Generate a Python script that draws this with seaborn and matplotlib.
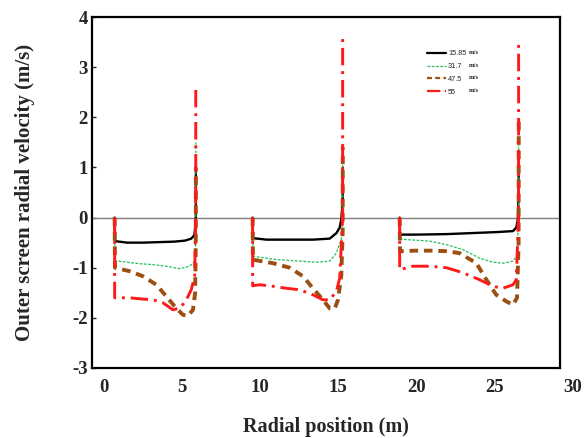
import numpy as np
import pandas as pd
import matplotlib
matplotlib.use("Agg")
import matplotlib.pyplot as plt
import matplotlib.transforms as mtransforms
from matplotlib.lines import Line2D
import seaborn as sns

# ---------------- data ----------------
series_labels = ["15.85", "31.7", "47.5", "55"]
unit_text = "m/s"
x_ticks = [0, 5, 10, 15, 20, 25, 30]
y_ticks = [-3, -2, -1, 0, 1, 2, 3, 4]

# black (15.85 m/s), three screen sections
s1_x_a = [0.70, 0.72, 1.5, 2.5, 3.5, 4.5, 5.2, 5.6, 5.8, 5.89, 5.9]
s1_y_a = [0, -0.47, -0.50, -0.50, -0.49, -0.48, -0.46, -0.42, -0.35, -0.10, 1.0]
s1_x_b = [9.53, 9.55, 10.41, 11.9, 13.39, 14.46, 14.89, 15.1, 15.2, 15.29, 15.3]
s1_y_b = [0, -0.41, -0.44, -0.44, -0.44, -0.42, -0.31, -0.20, -0.04, 0.3, 1.0]
s1_x_c = [18.94, 18.96, 20.0, 21.93, 23.5, 25.12, 26.19, 26.4, 26.5, 26.55, 26.56]
s1_y_c = [0, -0.34, -0.34, -0.33, -0.31, -0.29, -0.27, -0.20, -0.04, 0.5, 1.2]

# green (31.7 m/s)
s2_x_a = [0.70, 0.72, 1.5, 2.3, 3.2, 4.0, 4.86, 5.5, 5.82, 5.89, 5.9]
s2_y_a = [0, -0.86, -0.89, -0.92, -0.94, -0.97, -1.02, -0.97, -0.87, -0.5, 1.5]
s2_x_b = [9.53, 9.55, 10.83, 12.11, 13.6, 14.46, 14.89, 15.1, 15.2, 15.29, 15.3]
s2_y_b = [0, -0.77, -0.83, -0.86, -0.89, -0.87, -0.71, -0.51, -0.46, 0, 1.5]
s2_x_c = [18.94, 18.96, 20.86, 21.93, 22.99, 24.06, 24.91, 25.55, 26.19, 26.44, 26.55, 26.56]
s2_y_c = [0, -0.43, -0.47, -0.54, -0.64, -0.81, -0.89, -0.91, -0.87, -0.77, 0, 1.5]

# brown (47.5 m/s)
s3_x_a = [0.70, 0.72, 1.66, 2.51, 3.37, 4.0, 4.54, 5.07, 5.39, 5.71, 5.85, 5.89, 5.9]
s3_y_a = [0, -1.0, -1.07, -1.17, -1.34, -1.57, -1.77, -1.94, -1.96, -1.84, -1.5, -0.5, 1.0]
s3_x_b = [9.53, 9.55, 10.83, 11.9, 12.75, 13.39, 14.03, 14.46, 14.78, 14.99, 15.2, 15.29, 15.3]
s3_y_b = [0, -0.84, -0.91, -1.0, -1.17, -1.41, -1.64, -1.81, -1.82, -1.64, -1.17, -0.3, 1.4]
s3_x_c = [18.94, 18.96, 20.0, 20.86, 21.93, 22.78, 23.85, 24.49, 25.12, 25.76, 26.19, 26.45, 26.55, 26.56]
s3_y_c = [0, -0.67, -0.66, -0.66, -0.67, -0.71, -0.91, -1.24, -1.54, -1.67, -1.74, -1.6, -0.5, 2.0]

# red (55 m/s)
s4_x_a = [0.70, 0.70, 1.66, 2.30, 3.15, 3.79, 4.43, 4.9, 5.29, 5.6, 5.82, 5.89, 5.89]
s4_y_a = [0, -1.6, -1.6, -1.62, -1.64, -1.7, -1.84, -1.8, -1.64, -1.44, -1.17, 0, 2.62]
s4_x_b = [9.53, 9.53, 9.98, 10.83, 11.69, 12.54, 13.39, 14.03, 14.46, 14.89, 15.1, 15.29, 15.29]
s4_y_b = [0, -1.36, -1.34, -1.37, -1.41, -1.44, -1.54, -1.64, -1.64, -1.47, -1.21, 0, 3.6]
s4_x_c = [18.94, 18.94, 19.79, 20.86, 21.93, 22.99, 24.06, 24.91, 25.55, 26.19, 26.4, 26.55, 26.55]
s4_y_c = [0, -1.04, -0.97, -0.97, -1.0, -1.1, -1.24, -1.37, -1.41, -1.34, -1.24, 0, 3.53]

series_data = {
    "15.85": [(s1_x_a, s1_y_a), (s1_x_b, s1_y_b), (s1_x_c, s1_y_c)],
    "31.7": [(s2_x_a, s2_y_a), (s2_x_b, s2_y_b), (s2_x_c, s2_y_c)],
    "47.5": [(s3_x_a, s3_y_a), (s3_x_b, s3_y_b), (s3_x_c, s3_y_c)],
    "55": [(s4_x_a, s4_y_a), (s4_x_b, s4_y_b), (s4_x_c, s4_y_c)],
}

rows = []
for lab, segs in series_data.items():
    for k, (xs, ys) in enumerate(segs):
        for i, (xv, yv) in enumerate(zip(xs, ys)):
            rows.append(dict(series=lab, section=k, order=i, x=xv, y=yv))
df = pd.DataFrame(rows)

styles = {
    "15.85": dict(color="black", lw=1.7, ls="-"),
    "31.7": dict(color="#22c25a", lw=0.9, ls=(0, (2.2, 1.2))),
    "47.5": dict(color="#9c4f12", lw=2.8, ls=(0, (2.2, 1.5))),
    "55": dict(color="#ff1a1a", lw=2.1, ls=(0, (6, 2, 1, 2))),
}

# ---------------- plot ----------------
sns.set_style("white")
plt.rcParams["font.family"] = ["Liberation Serif", "DejaVu Serif"]

fig = plt.figure(figsize=(5.85, 4.38), dpi=100)
ax = fig.add_axes([92 / 585, 1 - 368 / 438, 468 / 585, 351 / 438])

ax.axhline(0, color="#7f7f7f", lw=1.0, zorder=1)

for lab in series_labels:
    st = styles[lab]
    sub = df[df.series == lab]
    sns.lineplot(data=sub, x="x", y="y", units="section", estimator=None,
                 sort=False, ax=ax, color=st["color"], linewidth=st["lw"],
                 linestyle=st["ls"], legend=False, zorder=3)

tick_fs = 13.5
x_max = 29.2
shown_x = [t for t in x_ticks if t < x_max]
ax.set_xticks(shown_x)
ax.set_yticks(y_ticks)
ax.set_xlim(-0.75, x_max)
ax.set_ylim(-3, 4)
ax.set_xticklabels([str(t) for t in shown_x], fontsize=tick_fs, fontweight="bold")
ax.set_yticklabels([str(t) for t in y_ticks], fontsize=tick_fs, fontweight="bold")
ax.tick_params(axis="x", length=0, pad=8)
ax.tick_params(axis="y", direction="in", length=3, width=1, pad=3, left=True)

# tick label beyond the right edge of the frame (as in the original)
offset = mtransforms.ScaledTranslation(0, -8 / 72, fig.dpi_scale_trans)
for t in x_ticks:
    if t not in shown_x:
        ax.text(t, 0, str(t), transform=ax.get_xaxis_transform() + offset,
                fontsize=tick_fs, fontweight="bold", ha="center", va="top",
                clip_on=False)

for sp in ax.spines.values():
    sp.set_visible(True)
    sp.set_color("black")
    sp.set_linewidth(1.6)

ax.set_xlabel("Radial position (m)", fontsize=14.5, fontweight="bold", labelpad=15)
ax.set_ylabel("Outer screen radial velocity (m/s)", fontsize=15, fontweight="bold",
              labelpad=27)

handles = [Line2D([0], [0], color=styles[l]["color"], lw=min(styles[l]["lw"], 1.6),
                  ls=styles[l]["ls"]) for l in series_labels]
leg = ax.legend(handles, series_labels, loc="upper left",
                bbox_to_anchor=(0.716, 0.905), frameon=False,
                prop={"family": "Liberation Sans", "size": 5.3},
                handlelength=2.6, handletextpad=0.25, labelspacing=0.75,
                borderpad=0, borderaxespad=0)

fig.canvas.draw()
inv = ax.transAxes.inverted()
for txt in leg.get_texts():
    bb = txt.get_window_extent()
    yc = (bb.y0 + bb.y1) / 2
    _, ya = inv.transform((0, yc))
    ax.text(0.805, ya + 0.004, unit_text, transform=ax.transAxes, fontsize=4.8,
            fontweight="bold", va="center", ha="left")

fig.savefig("out.png", dpi=100)
